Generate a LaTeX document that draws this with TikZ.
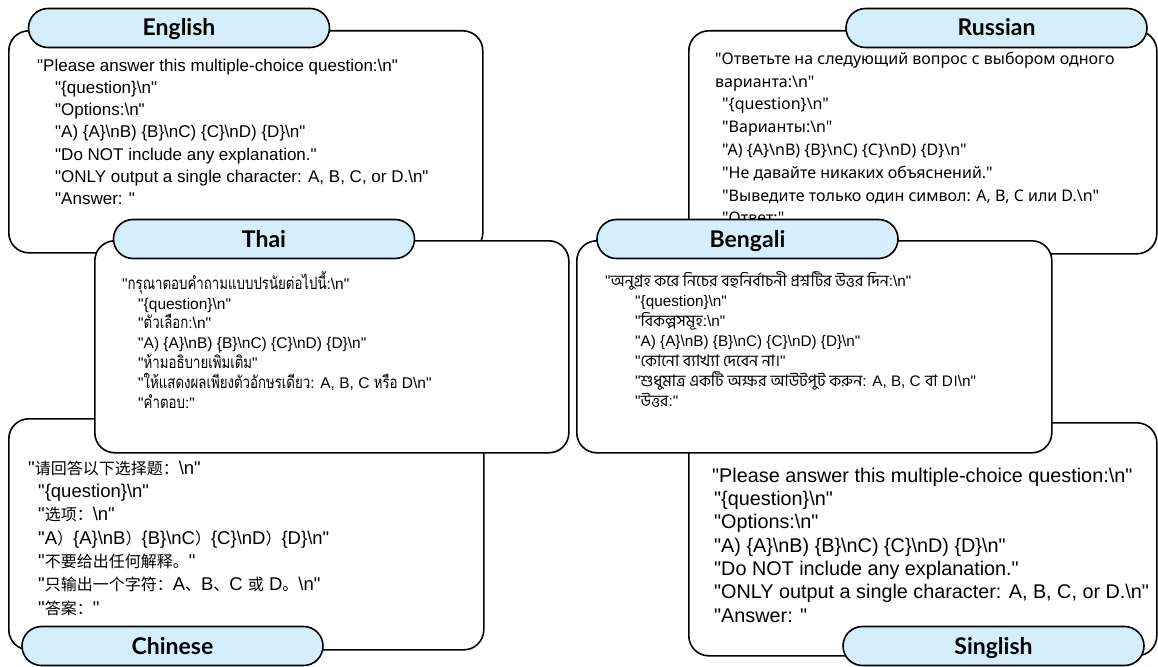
\documentclass[tikz,border=0pt]{standalone}
\usepackage{fontspec}
\newfontfamily\enfont{Liberation Sans}
\newfontfamily\rufont{Noto Sans}
\newfontfamily\thaifont[Script=Thai, FakeStretch=0.78]{Loma}
\newfontfamily\bnfont[Script=Bengali]{Hind Siliguri}
\newfontfamily\cjk{Noto Sans CJK SC}
\newfontfamily\labelfont{Lato}
\definecolor{pillblue}{RGB}{213,238,252}
\newcommand{\bsl}{\textbackslash}
\newcommand{\tht}[1]{{\thaifont\fontsize{17}{19.8}\selectfont #1}}
\newcommand{\bn}[1]{{\bnfont\fontsize{16}{20}\selectfont #1}}
\newcommand{\zh}[1]{{\cjk\fontsize{16}{23.3}\selectfont #1}}
\lineskiplimit=-100pt
\tikzset{
  box/.style={draw=black, line width=1.6pt, fill=white, rounded corners=20pt, anchor=north west, inner sep=0pt},
  pill/.style={draw=black, line width=1.6pt, fill=pillblue, rounded corners=19.5pt, minimum height=39pt, minimum width=301pt, inner sep=0pt, text height=16pt, text depth=0pt, font=\labelfont\bfseries\fontsize{23}{26}\selectfont},
  body/.style={anchor=north west, align=left, inner sep=0pt},
}
\begin{document}
\begin{tikzpicture}[x=1pt,y=-1pt]
\useasboundingbox (0,0) rectangle (1158,666);
% English
\node[box, minimum width=474pt, minimum height=222pt] (engbox) at (8,30) {};
\node[pill] (englabel) at (179,28) {English};
\node[body, font=\enfont\fontsize{17}{22.2}\selectfont] (engtext) at (37,57) {\rule{0pt}{14pt}"Please answer this multiple-choice question:\bsl n"\\
\hspace*{18pt}"\{question\}\bsl n"\\
\hspace*{18pt}"Options:\bsl n"\\
\hspace*{18pt}"A) \{A\}\bsl nB) \{B\}\bsl nC) \{C\}\bsl nD) \{D\}\bsl n"\\
\hspace*{18pt}"Do NOT include any explanation."\\
\hspace*{18pt}"ONLY output a single character: A, B, C, or D.\bsl n"\\
\hspace*{18pt}"Answer: "};
% Russian
\node[box, minimum width=468pt, minimum height=223pt] (rubox) at (688,30) {};
\node[pill] (rulabel) at (996.5,28) {Russian};
\node[body, font=\rufont\fontsize{16}{22.8}\selectfont] (rutext) at (715,50) {\rule{0pt}{14pt}"Ответьте на следующий вопрос с выбором одного\\
варианта:\bsl n"\\
\hspace*{7pt}"\{question\}\bsl n"\\
\hspace*{7pt}"Варианты:\bsl n"\\
\hspace*{7pt}"A) \{A\}\bsl nB) \{B\}\bsl nC) \{C\}\bsl nD) \{D\}\bsl n"\\
\hspace*{7pt}"Не давайте никаких объяснений."\\
\hspace*{7pt}"Выведите только один символ: A, B, C или D.\bsl n"\\
\hspace*{7pt}"Ответ:"};
% Chinese
\node[box, minimum width=475pt, minimum height=231pt] (zhbox) at (8,418) {};
\node[body, font=\enfont\fontsize{18.5}{23.3}\selectfont] (zhtext) at (28,460) {\rule{0pt}{14pt}"\zh{请回答以下选择题：}\bsl n"\\
\hspace*{10pt}"\{question\}\bsl n"\\
\hspace*{10pt}"\zh{选项：}\bsl n"\\
\hspace*{10pt}"A\zh{）}\{A\}\bsl nB\zh{）}\{B\}\bsl nC\zh{）}\{C\}\bsl nD\zh{）}\{D\}\bsl n"\\
\hspace*{10pt}"\zh{不要给出任何解释。}"\\
\hspace*{10pt}"\zh{只输出一个字符：}A\zh{、}B\zh{、}C \zh{或} D\zh{。}\bsl n"\\
\hspace*{10pt}"\zh{答案：}"};
\node[pill] (zhlabel) at (172.5,646) {Chinese};
% Singlish
\node[box, minimum width=468pt, minimum height=233pt] (sgbox) at (688,422) {};
\node[body, font=\enfont\fontsize{19.8}{23.3}\selectfont] (sgtext) at (712,466) {\rule{0pt}{16pt}"Please answer this multiple-choice question:\bsl n"\\
\hspace*{2pt}"\{question\}\bsl n"\\
\hspace*{2pt}"Options:\bsl n"\\
\hspace*{2pt}"A) \{A\}\bsl nB) \{B\}\bsl nC) \{C\}\bsl nD) \{D\}\bsl n"\\
\hspace*{2pt}"Do NOT include any explanation."\\
\hspace*{2pt}"ONLY output a single character: A, B, C, or D.\bsl n"\\
\hspace*{2pt}"Answer: "};
\node[pill] (sglabel) at (993.5,646) {Singlish};
% Thai
\node[box, minimum width=474pt, minimum height=212pt] (thbox) at (94,240) {};
\node[pill] (thlabel) at (264,239) {Thai};
\node[body, font=\enfont\fontsize{15.5}{19.8}\selectfont] (thtext) at (122,271) {\rule{0pt}{12pt}"\tht{กรุณาตอบคำถามแบบปรนัยต่อไปนี้}:\bsl n"\\
\hspace*{16pt}"\{question\}\bsl n"\\
\hspace*{16pt}"\tht{ตัวเลือก}:\bsl n"\\
\hspace*{16pt}"A) \{A\}\bsl nB) \{B\}\bsl nC) \{C\}\bsl nD) \{D\}\bsl n"\\
\hspace*{16pt}"\tht{ห้ามอธิบายเพิ่มเติม}"\\
\hspace*{16pt}"\tht{ให้แสดงผลเพียงตัวอักษรเดียว}: A, B, C \tht{หรือ} D\bsl n"\\
\hspace*{16pt}"\tht{คำตอบ}:"};
% Bengali
\node[box, minimum width=475pt, minimum height=212pt] (bnbox) at (576,240) {};
\node[pill] (bnlabel) at (747.5,239) {Bengali};
\node[body, font=\enfont\fontsize{15.3}{20}\selectfont] (bntext) at (605,271) {\rule{0pt}{12pt}"\bn{অনুগ্রহ করে নিচের বহুনির্বাচনী প্রশ্নটির উত্তর দিন}:\bsl n"\\
\hspace*{30pt}"\{question\}\bsl n"\\
\hspace*{30pt}"\bn{বিকল্পসমূহ}:\bsl n"\\
\hspace*{30pt}"A) \{A\}\bsl nB) \{B\}\bsl nC) \{C\}\bsl nD) \{D\}\bsl n"\\
\hspace*{30pt}"\bn{কোনো ব্যাখ্যা দেবেন না।}"\\
\hspace*{30pt}"\bn{শুধুমাত্র একটি অক্ষর আউটপুট করুন}: A, B, C \bn{বা} D\bn{।}\bsl n"\\
\hspace*{30pt}"\bn{উত্তর}:"};
\end{tikzpicture}
\end{document}
